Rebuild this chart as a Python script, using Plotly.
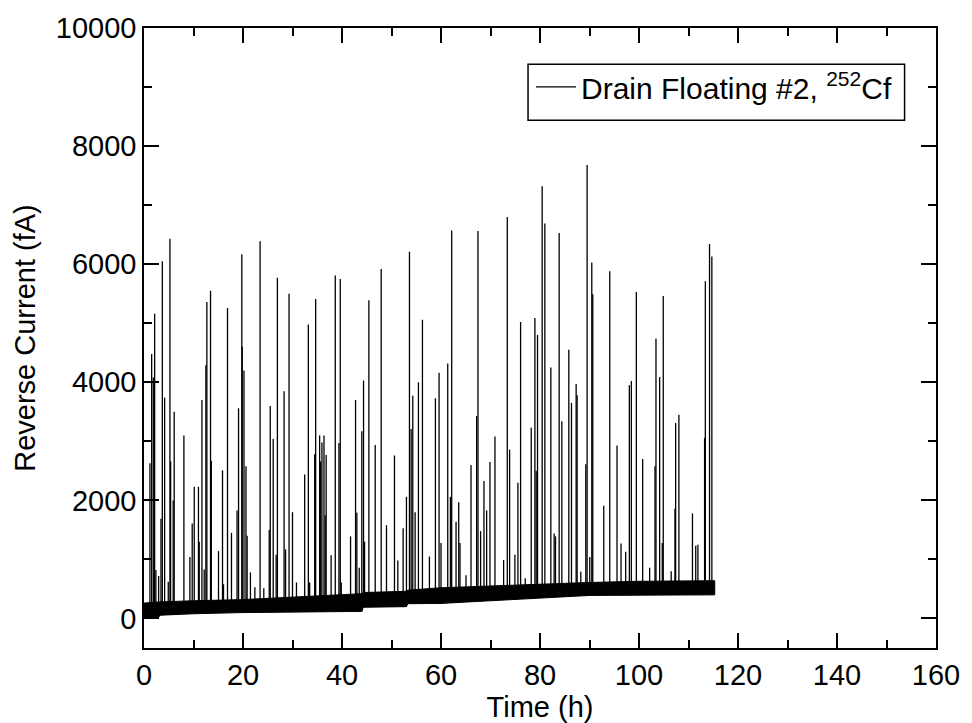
import numpy as np
import plotly.graph_objects as go

# Baseline noise band (time in h, lower/upper edge in fA)
band_t = [0, 2.9, 3.2, 10, 20, 30, 44, 44.3, 53, 53.3, 60, 70, 80, 90, 100, 110, 115.3]
band_low = [10, 10, 55, 80, 100, 110, 120, 190, 200, 250, 255, 300, 350, 390, 395, 400, 400]
band_high = [260, 280, 290, 300, 320, 360, 420, 440, 460, 480, 520, 550, 575, 610, 630, 640, 640]

# Spike events: time (h) and peak current (fA)
spike_t = [1.2, 1.55, 1.88, 2.15, 2.4, 2.96, 3.43, 3.7, 4.17, 4.9, 5.24, 5.38, 5.9, 6.1,
           8.06, 9.27, 9.74, 10.15, 11.0, 11.16, 11.7, 12.16, 12.5, 12.7, 13.44, 13.6,
           15.05, 15.86, 16.06, 16.87, 17.67, 18.8, 19.1, 19.76, 19.85, 20.2, 20.6, 20.83,
           21.5, 22.4, 23.45, 24.2, 25.3, 25.5, 26.1, 26.7, 26.95, 28.3, 28.6, 29.3, 30.0,
           30.8, 32.46, 33.2, 33.47, 34.48, 34.68, 35.48, 35.69, 35.95, 36.36, 36.6, 36.8,
           37.8, 38.64, 39.38, 39.65, 39.85, 41.73, 42.74, 43.0, 43.48, 44.0, 44.35, 44.56,
           45.43, 46.71, 47.92, 48.99, 50.6, 51.28, 52.35, 53.02, 53.63, 53.97, 54.3, 54.77,
           55.44, 56.25, 57.66, 58.87, 59.61, 60.0, 61.36, 61.9, 62.16, 63.04, 63.58, 63.84,
           65.05, 66.06, 67.2, 67.47, 68.0, 68.68, 69.22, 69.89, 70.9, 72.65, 73.39, 73.86,
           74.93, 75.54, 76.08, 77.02, 78.23, 78.97, 79.23, 79.5, 80.44, 80.98, 82.19, 82.86,
           83.13, 83.87, 84.41, 85.82, 86.36, 87.3, 87.5, 88.24, 89.25, 89.52, 90.05, 90.46,
           90.66, 92.88, 94.09, 95.56, 96.37, 97.31, 98.05, 98.45, 99.46, 100.74, 102.15,
           103.23, 103.43, 104.17, 104.7, 104.9, 106.5, 107.26, 107.4, 108.06, 110.8, 111.46,
           111.9, 113.25, 113.4, 114.25, 114.72]
spike_peak = [2630, 4480, 4080, 5160, 820, 720, 1690, 6050, 3740, 620, 6430, 2660, 2000, 3500,
              3100, 1040, 1610, 2230, 2230, 1300, 3700, 830, 4290, 5360, 5550, 2670,
              1140, 2510, 580, 5260, 1450, 1830, 3560, 6170, 4600, 4200, 2580, 1400,
              780, 530, 6390, 510, 1500, 3600, 3040, 1080, 5770, 3850, 1170, 5500, 1800,
              610, 2440, 4980, 610, 2780, 5410, 3100, 2660, 2980, 3100, 1750, 2770,
              1070, 5810, 2970, 5750, 610, 1390, 3700, 1790, 860, 3170, 4030, 1300,
              5390, 2940, 5920, 1580, 2760, 980, 1530, 2060, 6210, 3210, 3770, 1800,
              4000, 5060, 1050, 3730, 4160, 1280, 4320, 2060, 6570, 1640, 1970, 1280,
              730, 2600, 3430, 6560, 1480, 2330, 1830, 2650, 3080, 990, 6800, 2860,
              1080, 2300, 5020, 680, 3230, 5090, 2500, 4800, 7320, 6690, 4250, 1440,
              1390, 6530, 3340, 4550, 3650, 3970, 3780, 790, 2610, 7680, 1040, 6030,
              5490, 1910, 5880, 2930, 1270, 1130, 3950, 4020, 5530, 2700, 860,
              2580, 4740, 4090, 1280, 5460, 800, 1860, 3310, 3450, 1780, 1230,
              1250, 3060, 5710, 6340, 6130]

x_ticks = [0, 20, 40, 60, 80, 100, 120, 140, 160]
y_ticks = [0, 2000, 4000, 6000, 8000, 10000]

spike_base = np.interp(spike_t, band_t, band_low)
sx, sy = [], []
for t, b, p in zip(spike_t, spike_base, spike_peak):
    sx += [t, t, None]
    sy += [b, p, None]

fig = go.Figure()
fig.add_trace(go.Scatter(
    x=band_t + band_t[::-1], y=band_low + band_high[::-1],
    fill="toself", fillcolor="black", mode="lines",
    line=dict(color="black", width=1), showlegend=False, hoverinfo="skip"))
fig.add_trace(go.Scatter(
    x=sx, y=sy, mode="lines", line=dict(color="black", width=1.3),
    name="Drain Floating #2, <sup>252</sup>Cf"))

FS = 29
axis_common = dict(
    ticks="inside", ticklen=15, tickwidth=1.5, tickcolor="black",
    showline=True, linecolor="black", linewidth=1.5, mirror="ticks",
    showgrid=False, zeroline=False, tickformat="d",
    tickfont=dict(size=FS, color="black"),
)
fig.update_xaxes(range=[0, 160], tickvals=x_ticks,
                 minor=dict(ticks="inside", ticklen=8, tickwidth=1.5, tickcolor="black", dtick=10, tick0=0, showgrid=False),
                 title=dict(text="Time (h)", font=dict(size=FS), standoff=0),
                 **axis_common)
fig.update_yaxes(range=[-500, 10000], tickvals=y_ticks,
                 minor=dict(ticks="inside", ticklen=8, tickwidth=1.5, tickcolor="black", dtick=1000, tick0=0, showgrid=False),
                 title=dict(text="Reverse Current (fA)", font=dict(size=FS), standoff=12),
                 **axis_common)

# legend frame (drawn as a rectangle in pixel-equivalent paper coordinates)
L, R, T, B = 144, 938, 19, 650
def px_x(p): return (p - L) / (R - L)
def px_y(p): return (B - p) / (B - T)

fig.add_shape(type="rect", xref="paper", yref="paper",
              x0=px_x(529), x1=px_x(906.5), y0=px_y(113), y1=px_y(56),
              line=dict(color="black", width=1.5), fillcolor="rgba(0,0,0,0)", layer="above")

fig.update_layout(
    width=972, height=723,
    margin=dict(l=L, r=972 - R, t=T, b=723 - B),
    plot_bgcolor="white", paper_bgcolor="white",
    font=dict(family="Liberation Sans, Arial, sans-serif", size=FS, color="black"),
    legend=dict(x=px_x(532), y=px_y(79), xanchor="left", yanchor="middle",
                bgcolor="rgba(0,0,0,0)", borderwidth=0, itemwidth=40,
                font=dict(size=30)),
)

fig.write_html("out.html")
